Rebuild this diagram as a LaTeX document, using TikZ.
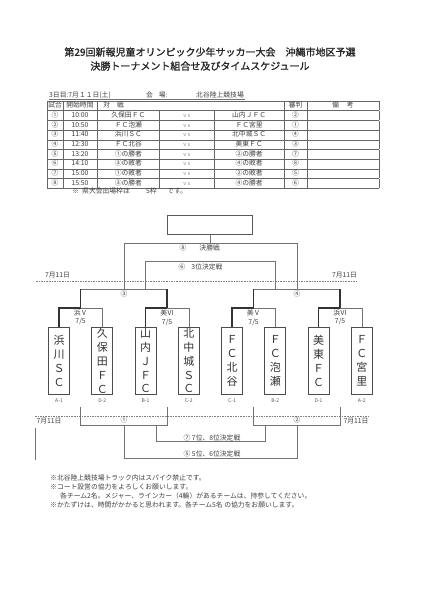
\documentclass[tikz,border=0pt]{standalone}
\usepackage{fontspec}
\usepackage{array}
\usepackage{colortbl}
\newfontfamily\jp{Noto Sans CJK JP}
\newfontfamily\jpb[FakeBold=1.3]{Noto Sans CJK JP}
\newcommand\vsmark{{\color{black!45}\fontsize{5.5}{6}\selectfont v\hspace{1.5pt}s}}
\begin{document}
\begin{tikzpicture}[x=1pt, y=-1pt,
		tm/.style  = {draw=black!70, line width=0.7pt, minimum width=21pt, minimum height=67pt, inner sep=0pt,
			anchor=north, align=center, font=\jp\fontsize{11}{13.8}\selectfont, text=black!80},
		cd/.style  = {font=\jp\fontsize{5}{6}\selectfont, text=black!65, inner sep=0pt},
		lbl/.style = {font=\jp\fontsize{6.8}{8.5}\selectfont, text=black!75, inner sep=0pt},
		ttl/.style = {font=\jpb\fontsize{10}{12}\selectfont, text=black!85, inner sep=0pt},
		ln/.style  = {draw=black!55, line width=0.5pt},
		win/.style = {draw=black!80, line width=1.5pt},
		dsh/.style = {draw=black!50, line width=0.5pt, dash pattern=on 1.6pt off 1pt}
		]
		\useasboundingbox[fill=white] (0,0) rectangle (424,600);
		
		% Title
		\node[ttl] (title1) at (210,52) {第29回新報児童オリンピック少年サッカー大会　沖縄市地区予選};
		\node[ttl] (title2) at (200,66) {決勝トーナメント組合せ及びタイムスケジュール};
		
		% Schedule table
		\node[lbl, anchor=west] (hd1) at (49,95) {3日目:7月１１日(土)};
		\node[lbl, anchor=west] (hd2) at (146,95) {会\hspace{6pt}場:};
		\node[lbl, anchor=west] (hd3) at (196,95) {北谷陸上競技場};
		\coordinate (ul1) at (49,99);
		\coordinate (ul2) at (245,99);
		\draw[ln] (ul1) -- (ul2);
		\node[anchor=north west, inner sep=0pt, text=black!75] (tbl) at (47,100.5) {%
			\setlength\tabcolsep{0pt}\renewcommand\arraystretch{1}\arrayrulecolor{black!60}%
			\jp\fontsize{6.8}{9.3}\selectfont
			\begin{tabular}{|w{c}{15pt}|w{c}{34pt}|w{c}{62pt}|w{c}{54pt}|w{c}{70pt}|w{c}{22pt}|w{c}{72pt}|}
				\hline
				試合 & 開始時間 & \multicolumn{3}{l|}{\hspace{6pt}対\hspace{7pt}戦} & 審判 & 備\hspace{8pt}考 \\ \hline
				① & 10:00 & 久保田ＦＣ & \vsmark & 山内ＪＦＣ & ② & \\ \hline
				② & 10:50 & ＦＣ泡瀬 & \vsmark & ＦＣ宮里 & ① & \\ \hline
				③ & 11:40 & 浜川ＳＣ & \vsmark & 北中城ＳＣ & ④ & \\ \hline
				④ & 12:30 & ＦＣ北谷 & \vsmark & 美東ＦＣ & ③ & \\ \hline
				⑤ & 13:20 & ①の勝者 & \vsmark & ②の勝者 & ⑦ & \\ \hline
				⑥ & 14:10 & ③の敗者 & \vsmark & ④の敗者 & ⑧ & \\ \hline
				⑦ & 15:00 & ①の敗者 & \vsmark & ②の敗者 & ⑤ & \\ \hline
				⑧ & 15:50 & ③の勝者 & \vsmark & ④の勝者 & ⑥ & \\ \hline
			\end{tabular}};
		\node[lbl, anchor=west] (nb1) at (72,191) {※};
		\node[lbl, anchor=west] (nb2) at (82,191) {県大会出場枠は};
		\node[lbl, anchor=west] (nb3) at (146,191) {5枠};
		\node[lbl, anchor=west] (nb4) at (167,191) {です。};
		
		% Final and 3rd place
		\node[draw=black!65, line width=1pt, minimum width=85pt, minimum height=19pt] (champ) at (210.4,224.5) {};
		\coordinate (fm) at (210.4,243);
		\coordinate (f3) at (123.9,243);
		\coordinate (f4) at (296.9,243);
		\coordinate (s3) at (123.9,289);
		\coordinate (s4) at (296.9,289);
		\draw[ln] (champ) -- (fm);
		\draw[ln] (s3) -- (f3) -- (f4) -- (s4);
		\node[lbl, anchor=west] (k8) at (179.5,248) {⑧\hspace{13pt}決勝戦};
		
		\coordinate (b3) at (145.5,289);
		\coordinate (b4) at (275.25,289);
		\coordinate (b3u) at (145.5,261);
		\coordinate (b4u) at (275.25,261);
		\draw[ln] (b3) -- (b3u) -- (b4u) -- (b4);
		\node[lbl, anchor=west] (k6) at (178.5,266.5) {⑥\hspace{6pt}3位決定戦};
		
		% Date lines
		\coordinate (dl1) at (36,281);
		\coordinate (dr1) at (358,281);
		\draw[dsh] (dl1) -- (dr1);
		\node[lbl] (d1) at (57.5,275) {7月11日};
		\node[lbl] (d2) at (344.5,275) {7月11日};
		
		% Semi finals
		\coordinate (s3l) at (80.6,289);
		\coordinate (s3r) at (167.1,289);
		\coordinate (s4l) at (253.6,289);
		\coordinate (s4r) at (340.1,289);
		\draw[ln] (s3l) -- (s3r);
		\draw[ln] (s4l) -- (s4r);
		\node[lbl] (w3) at (123.9,294) {③};
		\node[lbl] (w4) at (296.9,294) {④};
		
		% Teams
		\node[tm] (t1) at (59,327) {浜\\川\\Ｓ\\Ｃ};
		\node[tm] (t2) at (102.25,327) {久\\保\\田\\Ｆ\\Ｃ};
		\node[tm] (t3) at (145.5,327) {山\\内\\Ｊ\\Ｆ\\Ｃ};
		\node[tm] (t4) at (188.75,327) {北\\中\\城\\Ｓ\\Ｃ};
		\node[tm] (t5) at (232,327) {Ｆ\\Ｃ\\北\\谷};
		\node[tm] (t6) at (275.25,327) {Ｆ\\Ｃ\\泡\\瀬};
		\node[tm] (t7) at (318.5,327) {美\\東\\Ｆ\\Ｃ};
		\node[tm] (t8) at (361.75,327) {Ｆ\\Ｃ\\宮\\里};
		
		\node[cd] (c1) at (59,401) {A-1};
		\node[cd] (c2) at (102.25,401) {D-2};
		\node[cd] (c3) at (145.5,401) {B-1};
		\node[cd] (c4) at (188.75,401) {C-2};
		\node[cd] (c5) at (232,401) {C-1};
		\node[cd] (c6) at (275.25,401) {B-2};
		\node[cd] (c7) at (318.5,401) {D-1};
		\node[cd] (c8) at (361.75,401) {A-2};
		
		% Quarter finals (7/5)
		\coordinate (q1) at (80.6,308);
		\coordinate (q2) at (167.1,308);
		\coordinate (q3) at (253.6,308);
		\coordinate (q4) at (340.1,308);
		\draw[win] (t1.north) |- (q1);
		\draw[ln] (t2.north) |- (q1);
		\draw[win] (t3.north) |- (q2);
		\draw[ln] (t4.north) |- (q2);
		\draw[win] (t5.north) |- (q3);
		\draw[ln] (t6.north) |- (q3);
		\draw[win] (t7.north) |- (q4);
		\draw[ln] (t8.north) |- (q4);
		\draw[win] (q1) -- (s3l);
		\draw[win] (q2) -- (s3r);
		\draw[win] (q3) -- (s4l);
		\draw[win] (q4) -- (s4r);
		\node[lbl, align=center] (g1) at (80.6,317.5) {浜Ⅴ\\7/5};
		\node[lbl, align=center] (g2) at (167.1,317.5) {美Ⅵ\\7/5};
		\node[lbl, align=center] (g3) at (253.6,317.5) {美Ⅴ\\7/5};
		\node[lbl, align=center] (g4) at (340.1,317.5) {浜Ⅵ\\7/5};
		
		% Consolation
		\coordinate (dl2) at (35,416);
		\coordinate (dr2) at (368,416);
		\draw[dsh] (dl2) -- (dr2);
		\node[lbl] (d3) at (49,421) {7月11日};
		\node[lbl] (d4) at (356,421) {7月11日};
		
		\coordinate (l1a) at (80.6,407);
		\coordinate (l1b) at (167.1,407);
		\coordinate (l1c) at (80.6,425);
		\coordinate (l1d) at (167.1,425);
		\coordinate (l2a) at (253.6,407);
		\coordinate (l2b) at (340.1,407);
		\coordinate (l2c) at (253.6,425);
		\coordinate (l2d) at (340.1,425);
		\draw[ln] (l1a) -- (l1c) -- (l1d) -- (l1b);
		\draw[ln] (l2a) -- (l2c) -- (l2d) -- (l2b);
		\node[lbl] (w1) at (123.9,420) {①};
		\node[lbl] (w2) at (296.9,420) {②};
		
		\coordinate (n1) at (156.7,425);
		\coordinate (n1d) at (156.7,441.7);
		\coordinate (n2d) at (265,441.7);
		\coordinate (n2) at (265,425);
		\draw[ln] (n1) -- (n1d) -- (n2d) -- (n2);
		\node[lbl] (k7) at (212,437.5) {⑦ 7位、8位決定戦};
		
		\coordinate (m1) at (123.9,425);
		\coordinate (m1d) at (123.9,458);
		\coordinate (m2d) at (296.9,458);
		\coordinate (m2) at (296.9,425);
		\draw[ln] (m1) -- (m1d) -- (m2d) -- (m2);
		\node[lbl] (k5) at (212,454) {⑤ 5位、6位決定戦};
		
		\coordinate (ma) at (35,428);
		\coordinate (mb) at (35,460);
		\draw[ln] (ma) -- (mb);
		
		% Notes
		\node[lbl, anchor=west] (nt1) at (50,478) {※北谷陸上競技場トラック内はスパイク禁止です。};
		\node[lbl, anchor=west] (nt2) at (50,487) {※コート設営の協力をよろしくお願いします。};
		\node[lbl, anchor=west] (nt3) at (60,496) {各チーム2名。メジャー、ラインカー（4輪）があるチームは、持参してください。};
		\node[lbl, anchor=west] (nt4) at (50,505) {※かたずけは、時間がかかると思われます。各チーム5名 の協力をお願いします。};
	\end{tikzpicture}
\end{document}
